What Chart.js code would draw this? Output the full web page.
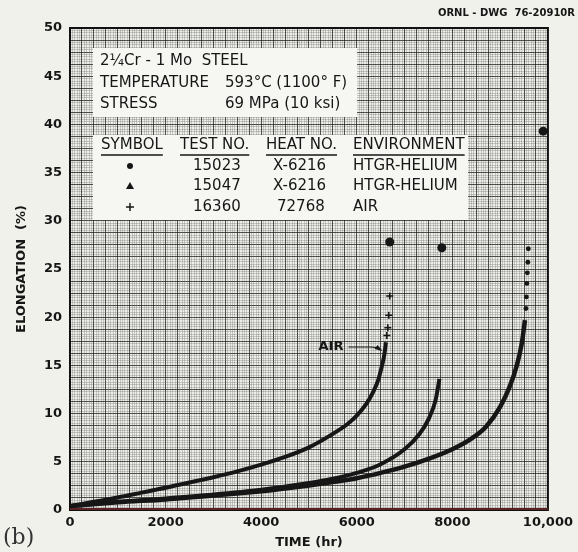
<!DOCTYPE html>
<html>
<head>
<meta charset="utf-8">
<script src="https://cdn.jsdelivr.net/npm/chart.js@4.4.1/dist/chart.umd.min.js"></script>
<style>
  html, body { margin: 0; padding: 0; background: #f1f1ec; }
  #wrap { width: 578px; height: 552px; }
</style>
</head>
<body>
<div id="wrap"><canvas id="creepChart" width="578" height="552"></canvas></div>
<script>
// test 16360, air
const airTime  = [0, 500, 1000, 1500, 2000, 2500, 3000, 3500, 4000, 4500, 5000, 5500, 5800, 6000, 6200, 6350, 6450, 6520, 6580, 6610]
const airElong = [0.4, 0.85, 1.3, 1.8, 2.3, 2.85, 3.4, 4.0, 4.7, 5.5, 6.5, 7.9, 8.9, 9.8, 11.0, 12.3, 13.5, 14.8, 16.2, 17.4]
const airTailTime  = [6630, 6650, 6670, 6690]
const airTailElong = [18.1, 18.9, 20.2, 22.2]

// test 15047, HTGR-helium (triangles)
const triTime  = [0, 1000, 2000, 3000, 4000, 5000, 5500, 6000, 6500, 7000, 7300, 7500, 7650, 7730]
const triElong = [0.4, 0.85, 1.2, 1.6, 2.1, 2.8, 3.25, 3.85, 4.75, 6.3, 7.8, 9.4, 11.4, 13.6]

// test 15023, HTGR-helium (circles)
const circTime  = [0, 1000, 2000, 3000, 4000, 5000, 5500, 6000, 6500, 7000, 7500, 8000, 8400, 8700, 9000, 9200, 9350, 9450, 9520]
const circElong = [0.4, 0.8, 1.1, 1.5, 1.95, 2.55, 2.9, 3.3, 3.85, 4.5, 5.3, 6.3, 7.4, 8.6, 10.7, 12.8, 15.0, 17.2, 19.7]
const circTailTime  = [9540, 9550, 9560, 9570, 9580, 9590]
const circTailElong = [20.9, 22.1, 23.5, 24.6, 25.7, 27.1]

// elongation measured after rupture
const ruptTime  = [6690, 7780, 9900]
const ruptElong = [27.8, 27.2, 39.3]

const xLabelTicks = [0, 2000, 4000, 6000, 8000, 10000]
const yLabelTicks = [0, 5, 10, 15, 20, 25, 30, 35, 40, 45, 50]

const pts = (xs, ys) => xs.map((x, i) => ({x: x, y: ys[i]}))
const ink = '#161616'
const lettering = 'DejaVu Sans'

const paper = {
  id: 'paper',
  beforeDraw(chart) {
    const {ctx, chartArea: a} = chart
    ctx.save()
    ctx.fillStyle = '#f1f1ec'
    ctx.fillRect(0, 0, chart.width, chart.height)
    ctx.fillStyle = '#eeeee9'
    ctx.fillRect(a.left, a.top, a.right - a.left, a.bottom - a.top)
    ctx.restore()
  }
}

const notes = {
  id: 'notes',
  beforeDatasetsDraw(chart) {
    const {ctx} = chart
    ctx.save()
    // white label boxes on the graph paper
    ctx.fillStyle = '#f6f6f2'
    ctx.fillRect(93, 48, 264, 69)
    ctx.fillRect(93, 135, 375, 85)
    ctx.fillStyle = ink
    ctx.textBaseline = 'middle'
    ctx.font = '15px ' + lettering
    ctx.fillText('2\u00BCCr - 1 Mo  STEEL', 100, 61)
    ctx.fillText('TEMPERATURE', 100, 83)
    ctx.fillText('593\u00B0C (1100\u00B0 F)', 225, 83)
    ctx.fillText('STRESS', 100, 104)
    ctx.fillText('69 MPa (10 ksi)', 225, 104)

    const cols = [101, 180, 266, 353]
    const heads = ['SYMBOL', 'TEST NO.', 'HEAT NO.', 'ENVIRONMENT']
    ctx.lineWidth = 1.3
    ctx.strokeStyle = ink
    heads.forEach((h, i) => {
      ctx.fillText(h, cols[i], 145)
      const w = ctx.measureText(h).width
      ctx.beginPath()
      ctx.moveTo(cols[i], 155)
      ctx.lineTo(cols[i] + w, 155)
      ctx.stroke()
    })
    const rows = [
      ['15023', 'X-6216', 'HTGR-HELIUM'],
      ['15047', 'X-6216', 'HTGR-HELIUM'],
      ['16360', '72768', 'AIR']
    ]
    const rowY = [166, 186, 207]
    rows.forEach((r, i) => {
      ctx.fillText(r[0], 193, rowY[i])
      ctx.fillText(r[1], r[1] === '72768' ? 277 : 273, rowY[i])
      ctx.fillText(r[2], 353, rowY[i])
    })
    // legend symbols
    ctx.beginPath()
    ctx.arc(130, 166, 3, 0, Math.PI * 2)
    ctx.fill()
    ctx.beginPath()
    ctx.moveTo(130, 182)
    ctx.lineTo(134, 189)
    ctx.lineTo(126, 189)
    ctx.closePath()
    ctx.fill()
    ctx.lineWidth = 1.5
    ctx.beginPath()
    ctx.moveTo(126, 207); ctx.lineTo(134, 207)
    ctx.moveTo(130, 203); ctx.lineTo(130, 211)
    ctx.stroke()
    ctx.restore()
  },
  afterDraw(chart) {
    const {ctx, chartArea: a, scales} = chart
    ctx.save()
    ctx.strokeStyle = '#111'
    ctx.lineWidth = 2
    ctx.strokeRect(a.left, a.top, a.right - a.left, a.bottom - a.top)
    ctx.strokeStyle = '#5a2222'
    ctx.lineWidth = 2
    ctx.beginPath()
    ctx.moveTo(a.left, a.bottom - 1)
    ctx.lineTo(a.right, a.bottom - 1)
    ctx.stroke()

    // AIR pointer
    const tipX = scales.x.getPixelForValue(6540)
    const tipY = scales.y.getPixelForValue(16.6)
    const txtX = scales.x.getPixelForValue(5200)
    ctx.fillStyle = ink
    ctx.strokeStyle = ink
    ctx.lineWidth = 1.2
    ctx.font = 'bold 13px ' + lettering
    ctx.textBaseline = 'middle'
    ctx.fillText('AIR', txtX, tipY - 3)
    ctx.beginPath()
    ctx.moveTo(txtX + 30, tipY - 3)
    ctx.lineTo(tipX - 12, tipY - 3)
    ctx.quadraticCurveTo(tipX - 5, tipY - 3, tipX - 2, tipY)
    ctx.stroke()
    ctx.beginPath()
    ctx.moveTo(tipX, tipY + 1)
    ctx.lineTo(tipX - 8, tipY - 1)
    ctx.lineTo(tipX - 5, tipY - 5)
    ctx.closePath()
    ctx.fill()

    ctx.font = 'bold 10px ' + lettering
    ctx.textAlign = 'right'
    ctx.fillText('ORNL - DWG  76-20910R', 575, 13)
    ctx.textAlign = 'left'
    ctx.font = '22px "DejaVu Serif"'
    ctx.fillStyle = '#333'
    ctx.fillText('(b)', 3, 538)
    ctx.restore()
  }
}

const ctx = document.getElementById('creepChart')

new Chart(ctx, {
  type: 'scatter',
  data: {
    datasets: [
      {label: '16360', data: pts(airTime, airElong), showLine: true, cubicInterpolationMode: 'monotone',
        borderColor: ink, borderWidth: 4, pointRadius: 0},
      {label: '16360 tail', data: pts(airTailTime, airTailElong), pointStyle: 'cross',
        pointRadius: 3.5, borderColor: ink, borderWidth: 1.6},
      {label: '15047', data: pts(triTime, triElong), showLine: true, cubicInterpolationMode: 'monotone',
        borderColor: ink, borderWidth: 4, pointRadius: 0},
      {label: '15023', data: pts(circTime, circElong), showLine: true, cubicInterpolationMode: 'monotone',
        borderColor: ink, borderWidth: 4.5, pointRadius: 0},
      {label: '15023 tail', data: pts(circTailTime, circTailElong), pointStyle: 'circle',
        pointRadius: 2.4, backgroundColor: ink, borderColor: ink, borderWidth: 0},
      {label: 'rupture', data: pts(ruptTime, ruptElong), pointStyle: 'circle',
        pointRadius: 4.5, backgroundColor: ink, borderColor: ink, borderWidth: 0}
    ]
  },
  options: {
    responsive: false,
    animation: false,
    layout: {padding: {top: 28, right: 27, bottom: 0, left: 0}},
    plugins: {legend: {display: false}, tooltip: {enabled: false}},
    scales: {
      x: {
        min: 0, max: 10000,
        afterFit: s => { s.height = 42 },
        border: {display: false},
        grid: {color: 'rgba(30,30,30,0.7)', lineWidth: 1, drawTicks: false, z: -1},
        ticks: {
          stepSize: 250, autoSkip: false, maxRotation: 0, padding: 5, color: ink,
          font: {family: lettering, weight: 'bold', size: 13},
          callback: v => xLabelTicks.includes(v) ? (v === 10000 ? '10,000' : String(v)) : ''
        },
        title: {display: true, text: 'TIME (hr)', color: ink, padding: {top: 0, bottom: 2},
          font: {family: lettering, weight: 'bold', size: 13}}
      },
      y: {
        min: 0, max: 50,
        afterFit: s => { s.width = 70 },
        border: {display: false},
        grid: {color: 'rgba(30,30,30,0.7)', lineWidth: 1, drawTicks: false, z: -1},
        ticks: {
          stepSize: 1.25, autoSkip: false, padding: 8, color: ink,
          font: {family: lettering, weight: 'bold', size: 13},
          callback: v => yLabelTicks.includes(v) ? String(v) : ''
        },
        title: {display: true, text: 'ELONGATION  (%)', color: ink, padding: {top: 14, bottom: 0},
          font: {family: lettering, weight: 'bold', size: 13}}
      },
      xf: {
        type: 'linear', position: 'bottom', min: 0, max: 10000,
        afterFit: s => { s.height = 0 },
        border: {display: false},
        grid: {color: 'rgba(40,40,40,0.2)', lineWidth: 1, drawTicks: false, z: -2},
        ticks: {display: false, stepSize: 50}
      },
      yf: {
        type: 'linear', position: 'left', min: 0, max: 50,
        afterFit: s => { s.width = 0 },
        border: {display: false},
        grid: {color: 'rgba(40,40,40,0.2)', lineWidth: 1, drawTicks: false, z: -2},
        ticks: {display: false, stepSize: 0.25}
      }
    }
  },
  plugins: [paper, notes]
})
</script>
</body>
</html>
